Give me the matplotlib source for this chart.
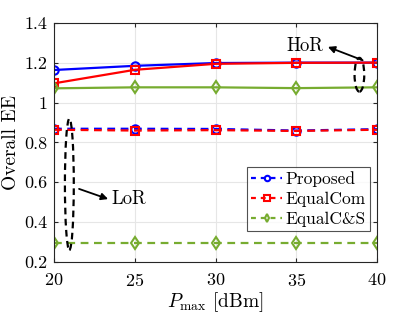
import matplotlib.pyplot as plt
from matplotlib.patches import Ellipse

plt.rcParams["font.family"] = ["cmr10", "DejaVu Serif"]
plt.rcParams["mathtext.fontset"] = "cm"
plt.rcParams["axes.formatter.use_mathtext"] = True

p_max = [20, 25, 30, 35, 40]

# high-rate (HoR) users, solid lines
hor_proposed = [1.164, 1.185, 1.199, 1.201, 1.201]
hor_equalcom = [1.097, 1.165, 1.195, 1.200, 1.201]
hor_equalcs = [1.072, 1.077, 1.077, 1.073, 1.077]

# low-rate (LoR) users, dashed lines
lor_proposed = [0.869, 0.869, 0.868, 0.860, 0.867]
lor_equalcom = [0.864, 0.860, 0.862, 0.858, 0.864]
lor_equalcs = [0.294, 0.294, 0.294, 0.294, 0.294]

labels = ["Proposed", "EqualCom", "EqualC&S"]
colors = ["#0000ff", "#ff0000", "#77ac30"]
markers = ["o", "s", "d"]

fig = plt.figure(figsize=(4.17, 3.13), dpi=100)
ax = fig.add_axes([0.1295, 0.163, 0.775, 0.7635])

hor = [hor_proposed, hor_equalcom, hor_equalcs]
lor = [lor_proposed, lor_equalcom, lor_equalcs]
for h, l, c, m, lab in zip(hor, lor, colors, markers, labels):
    ax.plot(p_max, h, "-", color=c, marker=m, mfc="none", mec=c,
            markersize=6, mew=1.5, lw=1.6)
    ax.plot(p_max, l, "--", color=c, marker=m, mfc="none", mec=c,
            markersize=6, mew=1.5, lw=1.6, dashes=(3.5, 2.5), label=lab)

# group ellipses and annotations
ax.add_patch(Ellipse((38.9, 1.14), 0.6, 0.17, fill=False, ec="k",
                     ls=(0, (3, 2)), lw=1.6, zorder=5))
ax.add_patch(Ellipse((20.95, 0.59), 0.55, 0.66, fill=False, ec="k",
                     ls=(0, (3, 2)), lw=1.6, zorder=5))

arrow = dict(arrowstyle="-|>", color="k", lw=1.3, mutation_scale=10,
             shrinkA=0, shrinkB=0)
ax.annotate("", xy=(36.95, 1.28), xytext=(39.1, 1.213), arrowprops=arrow)
ax.text(36.7, 1.285, "HoR", fontsize=13.5, ha="right", va="center")
ax.annotate("", xy=(23.35, 0.516), xytext=(21.55, 0.567), arrowprops=arrow)
ax.text(23.55, 0.515, "LoR", fontsize=13.5, ha="left", va="center")

ax.set_xlim(20, 40)
ax.set_ylim(0.2, 1.4)
ax.set_xticks(p_max)
ax.set_yticks([0.2, 0.4, 0.6, 0.8, 1.0, 1.2, 1.4])
ax.set_yticklabels(["0.2", "0.4", "0.6", "0.8", "1", "1.2", "1.4"])
ax.tick_params(direction="in", top=True, right=True, labelsize=13,
               color="#262626", length=3, pad=5)
ax.tick_params(axis="x", pad=7)
ax.grid(True, color="#e6e6e6", lw=0.8)
for s in ax.spines.values():
    s.set_color("#262626")
    s.set_linewidth(0.8)

ax.set_xlabel(r"$P_{\mathrm{max}}$ [dBm]", fontsize=14, labelpad=1)
ax.set_ylabel("Overall EE", fontsize=14, labelpad=3)

leg = ax.legend(loc="upper right", bbox_to_anchor=(0.978, 0.397),
                fontsize=12.5, fancybox=False, edgecolor="#262626",
                handlelength=1.8, handletextpad=0.2, borderpad=0.25,
                labelspacing=0.25, borderaxespad=0, markerscale=0.65)
leg.get_frame().set_linewidth(0.8)
for line in leg.get_lines():
    line.set_dashes((2.2, 2.2))

fig.savefig("out.png", dpi=100)
